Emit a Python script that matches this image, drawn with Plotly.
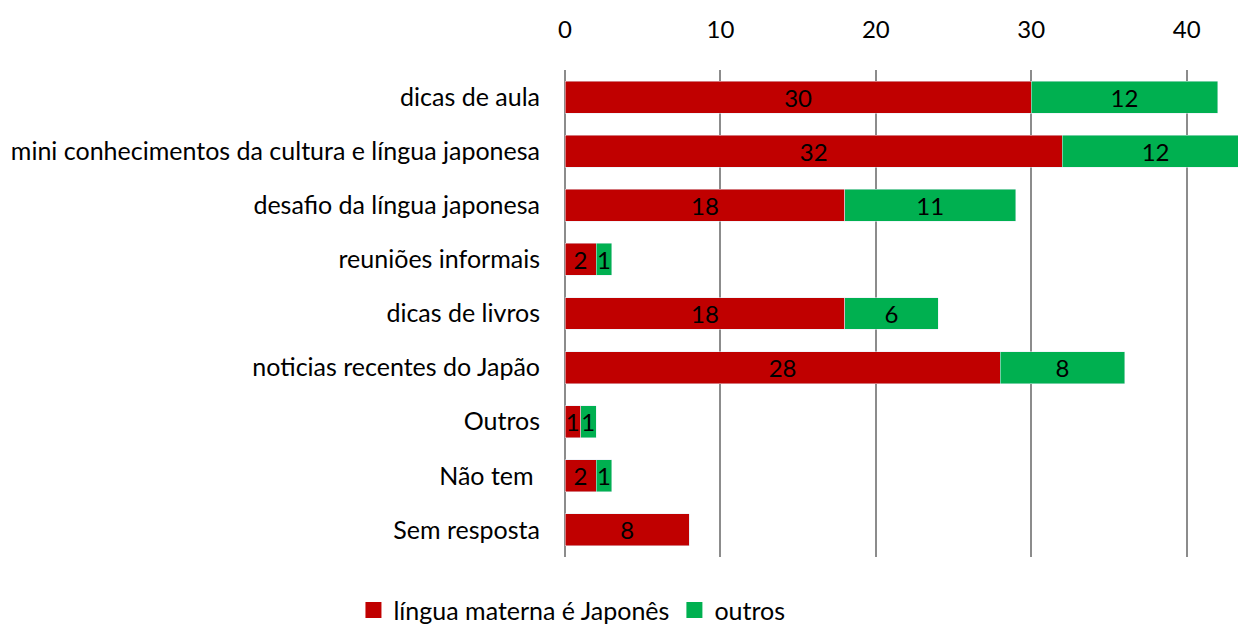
import plotly.graph_objects as go

categories = ["dicas de aula", "mini conhecimentos da cultura e língua japonesa",
              "desafio da língua japonesa", "reuniões informais", "dicas de livros",
              "noticias recentes do Japão", "Outros", "Não tem ", "Sem resposta"]
japones = [30, 32, 18, 2, 18, 28, 1, 2, 8]
outros = [12, 12, 11, 1, 6, 8, 1, 1, 0]
x_ticks = [0, 10, 20, 30, 40]
series_names = ["língua materna é Japonês", "outros"]
series_colors = ["#C00000", "#00B050"]

FONT = "Lato"
FS = 24

fig = go.Figure()
for vals, name, col in zip([japones, outros], series_names, series_colors):
    fig.add_trace(go.Bar(
        y=categories, x=vals, orientation="h", name=name, showlegend=False,
        marker=dict(color=col),
        text=[str(v) if v else "" for v in vals], textposition="inside",
        insidetextanchor="middle", textangle=0, constraintext="none",
        textfont=dict(color="black", size=FS, family=FONT),
    ))
for name, col in zip(series_names, series_colors):
    fig.add_trace(go.Scatter(
        x=[None], y=[None], mode="markers", name=name,
        marker=dict(symbol="square", size=16, color=col),
    ))

fig.update_layout(
    barmode="stack", bargap=0.41,
    width=1238, height=624,
    margin=dict(l=565, r=0, t=70, b=67, autoexpand=False),
    plot_bgcolor="white", paper_bgcolor="white",
    font=dict(family=FONT, size=FS, color="black"),
    legend=dict(orientation="h", xref="container", yref="container",
                x=0.462, xanchor="center", y=0.022, yanchor="middle",
                font=dict(size=25, family=FONT), traceorder="normal",
                itemsizing="trace"),
)
fig.update_xaxes(side="top", range=[0, 43.3], tickvals=x_ticks, automargin=False,
                 showgrid=True, gridcolor="#8c8c8c", gridwidth=1.5,
                 zeroline=True, zerolinecolor="#8c8c8c", zerolinewidth=1.5,
                 ticks="", ticklabelstandoff=26, tickfont=dict(size=FS))
fig.update_yaxes(autorange="reversed", categoryorder="array", categoryarray=categories,
                 automargin=False,
                 showgrid=False, ticks="", ticklabelstandoff=24, tickfont=dict(size=25))

fig.write_html("out.html", config={"displayModeBar": False},
               post_script="document.body.style.margin='0';document.body.style.overflow='hidden';")
